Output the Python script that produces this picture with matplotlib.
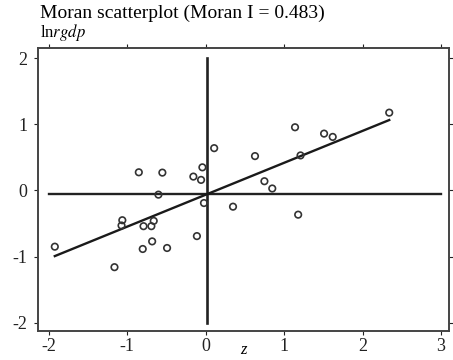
"""Moran scatterplot of lnrgdp against its spatial lag."""
import numpy as np
import matplotlib
matplotlib.use("Agg")
import matplotlib.pyplot as plt

# standardised z values and spatially lagged values
z = [-1.92, -1.16, -1.06, -1.07, -0.85, -0.55, -0.60, -0.79, -0.69, -0.66,
     -0.68, -0.80, -0.49, -0.155, -0.057, -0.04, 0.11, -0.02, -0.11, 0.35,
     0.63, 0.75, 0.85, 1.14, 1.21, 1.18, 1.51, 1.62, 2.34]
wz = [-0.85, -1.16, -0.45, -0.53, 0.275, 0.27, -0.063, -0.54, -0.54, -0.46,
      -0.77, -0.885, -0.87, 0.21, 0.16, 0.35, 0.64, -0.19, -0.69, -0.245,
      0.52, 0.14, 0.03, 0.956, 0.53, -0.366, 0.86, 0.81, 1.177]
moran_i = 0.483
intercept = -0.065
mean_z = 0.02
mean_wz = -0.06

xticks = [-2, -1, 0, 1, 2, 3]
yticks = [-2, -1, 0, 1, 2]

plt.rcParams['font.family'] = ['Liberation Serif', 'DejaVu Serif']
plt.rcParams['mathtext.fontset'] = 'stix'

fig = plt.figure(figsize=(4.53, 3.6), dpi=100)
ax = fig.add_axes([0.0846, 0.0806, 0.9072, 0.7852])

# quadrant lines
ax.plot([-2, 3], [mean_wz, mean_wz], color='#222222', lw=1.7)
ax.plot([mean_z, mean_z], [-2, 2], color='#222222', lw=1.9)

# fitted line, slope = Moran I
xs = np.array([min(z), max(z)])
ax.plot(xs, intercept + moran_i * xs, color='#1a1a1a', lw=1.7)

ax.scatter(z, wz, s=22, facecolors='none', edgecolors='#333333',
           linewidths=1.2, zorder=3)

ax.set_xlim(-2.13, 3.105)
ax.set_ylim(-2.125, 2.15)
ax.set_xticks(xticks)
ax.set_yticks(yticks)
ax.set_xticklabels([str(t) for t in xticks])
ax.set_yticklabels([str(t) for t in yticks])
ax.tick_params(direction='out', length=3, width=0.8, labelsize=13,
               top=True, right=True, colors='#222222')
ax.tick_params(axis='x', pad=2)
ax.tick_params(axis='y', pad=5)
for s in ax.spines.values():
    s.set_linewidth(1.4)
    s.set_color('#444444')

ax.set_xlabel('z', fontsize=12, style='italic', labelpad=-9)

fig.text(40 / 453, 1 - 5 / 360, 'Moran scatterplot (Moran I = 0.483)',
         fontsize=14, va='top', ha='left')
fig.text(40 / 453, 1 - 22 / 360, r'ln$\mathit{rgdp}$', fontsize=12,
         va='top', ha='left')

fig.savefig('out.png', dpi=100)
